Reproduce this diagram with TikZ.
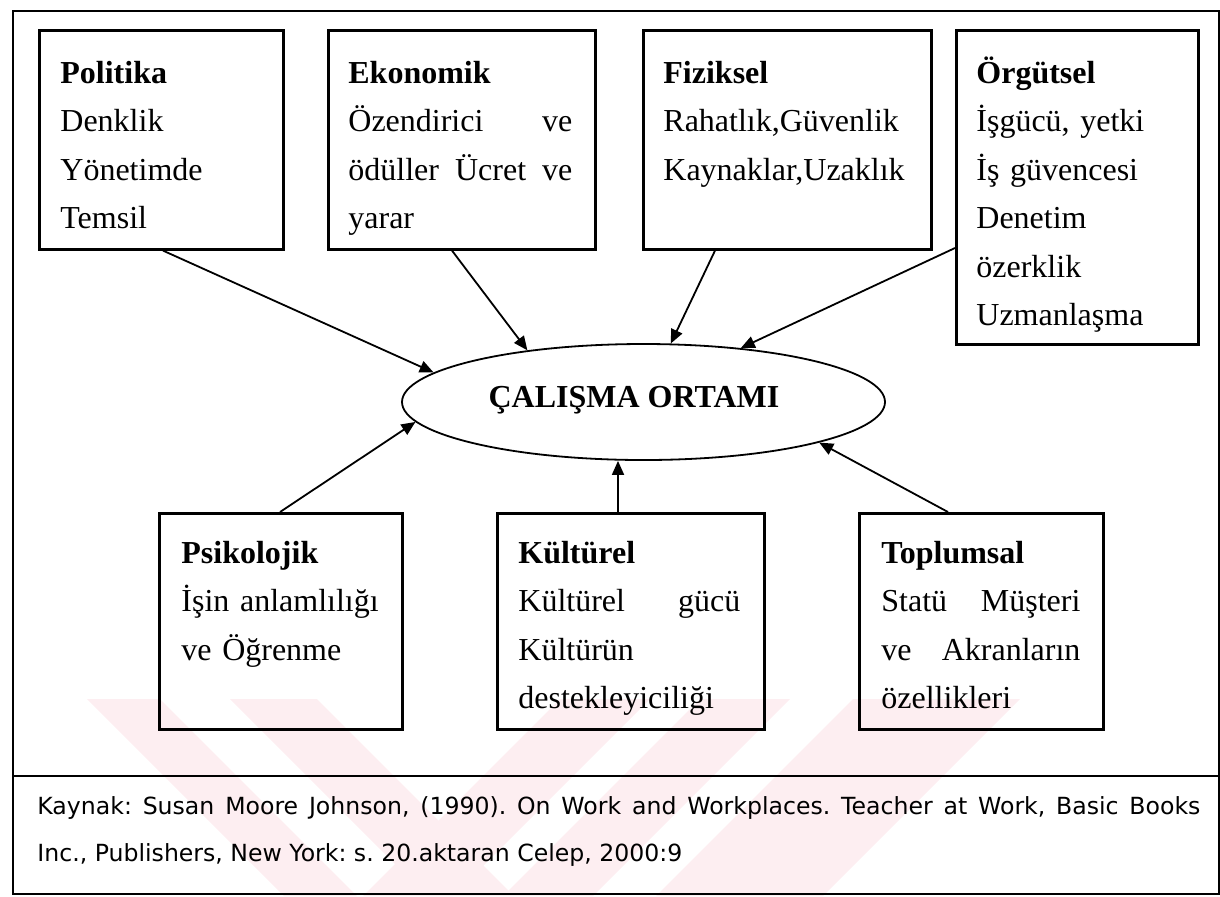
\documentclass[tikz,border=0pt]{standalone}
\usepackage{fontspec}
\setmainfont{Liberation Serif}
\newfontfamily\refsans{DejaVu Sans}
\usetikzlibrary{arrows.meta,shapes.geometric,calc}
\definecolor{wmark}{HTML}{FDEEF1}
\frenchspacing
% a line of a box text, kept on one line
\newcommand{\nline}[1]{\strut\mbox{#1}}
% a justified line, stretched to the given width (font spaces, not fixed ones)
\newcommand{\jline}[2]{\strut\makebox[#1][s]{\spaceskip=0pt\xspaceskip=0pt\relax #2}}

\begin{document}
\begin{tikzpicture}[x=0.5pt,y=-0.5pt,
  box/.style={draw, line width=1.3pt, rectangle, inner sep=0pt, anchor=north west},
  boxtext/.style={anchor=north west, inner sep=0pt, align=left,
    font=\fontsize{16}{24.25}\selectfont},
  link/.style={line width=0.9pt, -{Triangle[length=7pt,width=6pt]}},
  frame/.style={line width=1pt},
  wm/.style={fill=wmark, draw=none},
]
\useasboundingbox (0,0) rectangle (1220,896);

% faint background emblem
\fill[wm] (87,699) -- (160,699) -- (357,896) -- (284,896) -- cycle;
\fill[wm] (230,699) -- (317,699) -- (514,896) -- (427,896) -- cycle;
\fill[wm] (560,699) -- (650,699) -- (453,896) -- (363,896) -- cycle;
\fill[wm] (700,699) -- (790,699) -- (593,896) -- (503,896) -- cycle;
\fill[wm] (853,699) -- (1020,699) -- (823,896) -- (656,896) -- cycle;

% outer frame and source separator
\draw[frame] (13,11) rectangle (1219,894);
\draw[frame] (13,776) -- (1219,776);

% upper row of factor boxes
\node[box, minimum width=122pt, minimum height=109.5pt] (pol) at (38,29) {};
\node[box, minimum width=133.5pt, minimum height=109.5pt] (eko) at (327,29) {};
\node[box, minimum width=144pt, minimum height=109.5pt] (fiz) at (642,29) {};
\node[box, minimum width=121pt, minimum height=157pt] (org) at (955,29) {};

% lower row of factor boxes
\node[box, minimum width=121.5pt, minimum height=108pt] (psi) at (158,512) {};
\node[box, minimum width=133.5pt, minimum height=108pt] (kul) at (496,512) {};
\node[box, minimum width=122pt, minimum height=108pt] (tpl) at (858,512) {};

% box texts
\node[boxtext, text width=101pt] (polt) at ($(pol.north west)+(22,20)$)
  {\nline{\textbf{Politika}}\\\nline{Denklik}\\\nline{Yönetimde}\\\nline{Temsil}};
\node[boxtext, text width=112.5pt] (ekot) at ($(eko.north west)+(21,20)$)
  {\nline{\textbf{Ekonomik}}\\\jline{112pt}{Özendirici ve}\\\jline{112pt}{ödüller Ücret ve}\\\nline{yarar}};
\node[boxtext, text width=123pt] (fizt) at ($(fiz.north west)+(21,20)$)
  {\nline{\textbf{Fiziksel}}\\\nline{Rahatlık,Güvenlik}\\\nline{Kaynaklar,Uzaklık}};
\node[boxtext, text width=100pt] (orgt) at ($(org.north west)+(21,20)$)
  {\nline{\textbf{Örgütsel}}\\\nline{İşgücü, yetki}\\\nline{İş güvencesi}\\\nline{Denetim}\\\nline{özerklik}\\\nline{Uzmanlaşma}};
\node[boxtext, text width=100.5pt] (psit) at ($(psi.north west)+(23,17)$)
  {\nline{\textbf{Psikolojik}}\\\nline{İşin anlamlılığı}\\\nline{ve Öğrenme}};
\node[boxtext, text width=112.5pt] (kult) at ($(kul.north west)+(22,17)$)
  {\nline{\textbf{Kültürel}}\\\jline{111pt}{Kültürel gücü}\\\nline{Kültürün}\\\nline{destekleyiciliği}};
\node[boxtext, text width=101pt] (tplt) at ($(tpl.north west)+(23,17)$)
  {\nline{\textbf{Toplumsal}}\\\jline{99.5pt}{Statü Müşteri}\\\jline{99.5pt}{ve Akranların}\\\nline{özellikleri}};

% central ellipse
\node[draw, ellipse, line width=0.9pt, minimum width=241.5pt, minimum height=58pt,
  inner sep=0pt] (env) at (643.5,402) {};
\node[font=\fontsize{16}{19}\selectfont\bfseries, inner sep=0pt] (envt) at (634,400) {ÇALIŞMA ORTAMI};

% connectors into the ellipse
\draw[link] ($(pol.south west)+(125,0)$) -- (env.172.3);
\draw[link] ($(eko.south west)+(125,0)$) -- (env.156.7);
\draw[link] ($(fiz.south west)+(73,0)$) -- (env.65.9);
\draw[link] ($(org.north west)+(0,219)$) -- (env.29.5);
\draw[link] ($(psi.north west)+(122,0)$) -- (env.185.3);
\coordinate (kulfoot) at ($(kul.north west)+(122,0)$);
\draw[link] (kulfoot) -- (kulfoot |- env.south);
\draw[link] ($(tpl.north west)+(90,0)$) -- (env.347);

% source note
\node[anchor=base west, inner sep=0pt, font=\refsans\fontsize{11.8}{14}\selectfont] (src1) at (37,814)
  {\makebox[581.5pt][s]{Kaynak: Susan Moore Johnson, (1990). On Work and Workplaces. Teacher at Work, Basic Books}};
\node[anchor=base west, inner sep=0pt, font=\refsans\fontsize{11.8}{14}\selectfont] (src2) at (37,861)
  {Inc., Publishers, New York: s. 20.aktaran Celep, 2000:9};
\end{tikzpicture}
\end{document}
